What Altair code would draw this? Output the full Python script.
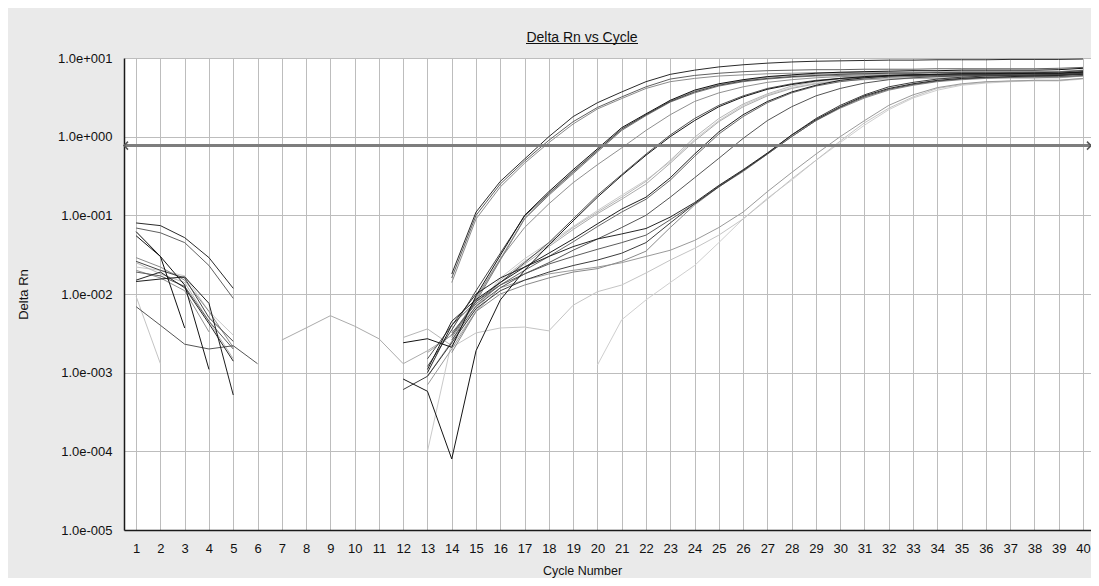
import altair as alt
import pandas as pd

N = None
CYCLES = list(range(1, 41))
Y_TICKS = [1e-5, 1e-4, 1e-3, 1e-2, 1e-1, 1.0, 10.0]
THRESHOLD = 0.77
X_DOMAIN = [0.5, 40.33]
TITLE = "Delta Rn vs Cycle"
X_TITLE = "Cycle Number"
Y_TITLE = "Delta Rn"

# ---- amplification curves (Delta Rn per cycle, None = no value drawn) ----
I2 = [N, N, N, N, N, N, N, N, N, N,
      N, N, N, N, N, N, N, N, N, 0.00125,
      0.0047, 0.0084, 0.014, 0.023, 0.045, 0.09, 0.165, 0.28, 0.5, 0.84,
      1.4, 2.2, 3.1, 3.9, 4.5, 4.8, 5.0, 5.1, 5.1, 5.4]
I1 = [0.0093, 0.0013, N, N, N, N, N, N, N, N,
      N, N, N, 0.0021, 0.0032, 0.0037, 0.0038, 0.0034, 0.0072, 0.0107,
      0.013, 0.0185, 0.027, 0.038, 0.056, 0.09, 0.16, 0.29, 0.5, 0.88,
      1.5, 2.3, 3.2, 4.1, 4.6, 4.9, 5.1, 5.2, 5.2, 5.5]
E2 = [0.022, 0.02, 0.017, 0.006, 0.003, N, N, N, N, N,
      N, N, 0.0001, 0.0025, 0.0065, 0.016, 0.028, 0.045, 0.072, 0.115,
      0.18, 0.28, 0.48, 0.92, 1.6, 2.5, 3.4, 4.2, 4.8, 5.2,
      5.4, 5.5, 5.6, 5.6, 5.7, 5.7, 5.7, 5.7, 5.7, 6.0]
E1 = [0.025, 0.018, 0.014, 0.0045, 0.0015, N, N, N, N, N,
      N, 0.0028, 0.0036, 0.0022, 0.006, 0.015, 0.026, 0.042, 0.07, 0.11,
      0.17, 0.27, 0.5, 0.98, 1.7, 2.6, 3.5, 4.4, 5.0, 5.4,
      5.6, 5.8, 5.9, 5.9, 6.0, 6.0, 6.0, 6.0, 6.0, 6.3]
E3 = [N, N, N, N, N, N, 0.0026, 0.0037, 0.0053, 0.0039,
      0.0027, 0.0013, 0.0019, 0.003, 0.007, 0.014, 0.024, 0.04, 0.066, 0.105,
      0.16, 0.25, 0.46, 0.88, 1.55, 2.4, 3.3, 4.1, 4.7, 5.1,
      5.3, 5.4, 5.5, 5.5, 5.6, 5.6, 5.6, 5.6, 5.6, 5.9]
B4 = [N, N, N, N, N, N, N, N, N, N,
      N, N, 0.0018, 0.003, 0.0085, 0.028, 0.092, 0.185, 0.35, 0.66,
      1.22, 1.88, 2.85, 3.8, 4.6, 5.2, 5.7, 6.0, 6.2, 6.3,
      6.4, 6.5, 6.5, 6.6, 6.6, 6.6, 6.6, 6.7, 6.7, 7.0]
I3 = [N, N, N, N, N, N, N, N, N, N,
      N, N, 0.0007, 0.002, 0.006, 0.012, 0.015, 0.018, 0.02, 0.022,
      0.025, 0.03, 0.036, 0.048, 0.07, 0.11, 0.2, 0.35, 0.6, 1.0,
      1.6, 2.5, 3.4, 4.2, 4.7, 5.0, 5.1, 5.2, 5.2, 5.5]
A3 = [N, N, N, N, N, N, N, N, N, N,
      N, N, N, 0.014, 0.09, 0.23, 0.46, 0.84, 1.45, 2.25,
      3.05, 4.1, 5.0, 5.5, 5.9, 6.1, 6.3, 6.4, 6.5, 6.5,
      6.6, 6.6, 6.6, 6.6, 6.7, 6.7, 6.7, 6.7, 6.7, 7.0]
C1 = [0.02, 0.016, 0.011, 0.0033, N, N, N, N, N, N,
      N, N, 0.0009, 0.0025, 0.009, 0.028, 0.07, 0.14, 0.26, 0.44,
      0.72, 1.2, 1.9, 2.8, 3.6, 4.3, 4.9, 5.3, 5.6, 5.8,
      5.9, 6.0, 6.0, 6.1, 6.1, 6.1, 6.1, 6.1, 6.2, 6.5]
H4 = [0.029, 0.022, 0.015, 0.006, 0.0021, N, N, N, N, N,
      N, N, N, 0.0018, 0.006, 0.01, 0.013, 0.016, 0.019, 0.021,
      0.026, 0.035, 0.07, 0.135, 0.23, 0.36, 0.6, 1.0, 1.6, 2.3,
      3.1, 3.9, 4.5, 5.0, 5.3, 5.5, 5.6, 5.6, 5.7, 5.9]
B3 = [N, N, N, N, N, N, N, N, N, N,
      N, N, N, 0.0028, 0.008, 0.027, 0.09, 0.18, 0.34, 0.64,
      1.2, 1.85, 2.75, 3.6, 4.4, 5.0, 5.4, 5.7, 5.9, 6.0,
      6.1, 6.1, 6.2, 6.2, 6.2, 6.2, 6.2, 6.2, 6.3, 6.6]
F2 = [N, N, N, N, N, N, N, N, N, N,
      N, N, N, 0.0032, 0.0075, 0.013, 0.02, 0.03, 0.046, 0.072,
      0.11, 0.16, 0.28, 0.56, 1.08, 1.8, 2.7, 3.6, 4.4, 5.0,
      5.4, 5.7, 5.8, 5.9, 6.0, 6.0, 6.0, 6.0, 6.0, 6.3]
A2 = [0.069, 0.06, 0.045, 0.023, 0.0088, N, N, N, N, N,
      N, N, N, 0.016, 0.1, 0.25, 0.49, 0.9, 1.55, 2.35,
      3.2, 4.3, 5.4, 6.0, 6.4, 6.7, 6.9, 7.0, 7.1, 7.1,
      7.2, 7.2, 7.2, 7.3, 7.3, 7.3, 7.3, 7.3, 7.4, 7.6]
H2 = [0.019, 0.017, 0.0125, 0.0045, 0.002, N, N, N, N, N,
      N, N, N, 0.003, 0.008, 0.013, 0.018, 0.024, 0.03, 0.037,
      0.045, 0.056, 0.088, 0.14, 0.235, 0.37, 0.6, 1.0, 1.6, 2.35,
      3.2, 4.0, 4.6, 5.1, 5.4, 5.6, 5.7, 5.8, 5.8, 6.0]
G1 = [0.0069, 0.004, 0.0023, 0.002, 0.0022, 0.0013, N, N, N, N,
      N, N, N, 0.0026, 0.007, 0.012, 0.018, 0.025, 0.036, 0.05,
      0.07, 0.1, 0.17, 0.3, 0.53, 0.95, 1.6, 2.4, 3.3, 4.1,
      4.8, 5.3, 5.6, 5.8, 5.9, 6.0, 6.0, 6.0, 6.1, 6.3]
D2 = [N, N, N, N, N, N, N, N, N, N,
      N, N, 0.0015, 0.004, 0.008, 0.014, 0.025, 0.045, 0.09, 0.18,
      0.33, 0.6, 1.05, 1.7, 2.5, 3.3, 4.1, 4.7, 5.2, 5.5,
      5.7, 5.9, 6.0, 6.0, 6.1, 6.1, 6.1, 6.1, 6.2, 6.4]
B2 = [0.026, 0.02, 0.016, 0.005, 0.0025, N, N, N, N, N,
      N, N, 0.0012, 0.0035, 0.011, 0.033, 0.098, 0.19, 0.36, 0.67,
      1.25, 1.9, 2.8, 3.7, 4.5, 5.1, 5.5, 5.8, 6.0, 6.2,
      6.3, 6.4, 6.4, 6.5, 6.5, 6.5, 6.5, 6.5, 6.6, 6.9]
H3 = [N, N, N, N, N, N, N, N, N, N,
      N, 0.00061, 0.0009, 0.0024, 0.0065, 0.011, 0.015, 0.019, 0.023, 0.027,
      0.033, 0.045, 0.08, 0.14, 0.23, 0.37, 0.61, 1.05, 1.7, 2.5,
      3.4, 4.3, 4.9, 5.4, 5.7, 5.9, 6.0, 6.1, 6.1, 6.4]
A1 = [0.08, 0.074, 0.052, 0.029, 0.0118, N, N, N, N, N,
      N, N, N, 0.018, 0.11, 0.27, 0.52, 1.0, 1.8, 2.7,
      3.7, 5.0, 6.2, 7.0, 7.7, 8.2, 8.6, 8.9, 9.1, 9.2,
      9.3, 9.4, 9.4, 9.5, 9.5, 9.5, 9.6, 9.6, 9.6, 9.7]
H1 = [0.015, 0.019, 0.012, 0.0042, 0.0014, N, N, N, N, N,
      N, N, 0.001, 0.004, 0.01, 0.016, 0.022, 0.03, 0.04, 0.05,
      0.058, 0.068, 0.095, 0.145, 0.24, 0.38, 0.62, 1.05, 1.65, 2.4,
      3.3, 4.1, 4.7, 5.2, 5.5, 5.7, 5.8, 5.9, 6.0, 6.2]
F1 = [0.0144, 0.0155, 0.0165, 0.0076, 0.00052, N, N, N, N, N,
      N, N, 0.0011, 0.0045, 0.0085, 0.014, 0.022, 0.033, 0.05, 0.078,
      0.12, 0.17, 0.3, 0.6, 1.15, 1.9, 2.8, 3.7, 4.5, 5.2,
      5.6, 5.9, 6.1, 6.2, 6.3, 6.3, 6.4, 6.4, 6.4, 6.7]
D1 = [0.055, 0.03, 0.013, 0.0011, N, N, N, N, N, N,
      N, 0.00083, 0.00058, 0.00008, 0.0019, 0.0084, 0.02, 0.042, 0.085, 0.17,
      0.32, 0.58, 1.0, 1.6, 2.4, 3.2, 4.0, 4.6, 5.1, 5.5,
      5.8, 6.0, 6.1, 6.2, 6.3, 6.3, 6.3, 6.4, 6.4, 6.6]
B1 = [0.062, 0.03, 0.0037, N, N, N, N, N, N, N,
      N, 0.0024, 0.0027, 0.0021, 0.0095, 0.031, 0.1, 0.2, 0.38, 0.7,
      1.3, 1.95, 2.9, 3.9, 4.7, 5.3, 5.8, 6.1, 6.4, 6.6,
      6.7, 6.8, 6.9, 6.9, 7.0, 7.0, 7.0, 7.0, 7.1, 7.4]

SERIES_NAMES = ["I2", "I1", "E2", "E1", "E3", "B4", "I3", "A3", "C1", "H4",
                "B3", "F2", "A2", "H2", "G1", "D2", "B2", "H3", "A1", "H1",
                "F1", "D1", "B1"]
SERIES_VALUES = [I2, I1, E2, E1, E3, B4, I3, A3, C1, H4,
                 B3, F2, A2, H2, G1, D2, B2, H3, A1, H1,
                 F1, D1, B1]
SERIES_COLORS = ["#cfcfcf", "#c4c4c4", "#cacaca", "#b6b6b6", "#ababab", "#a0a0a0",
                 "#9a9a9a", "#8c8c8c", "#909090", "#8a8a8a", "#7a7a7a", "#686868",
                 "#606060", "#5c5c5c", "#555555", "#505050", "#454545", "#3c3c3c",
                 "#2a2a2a", "#262626", "#1e1e1e", "#151515", "#111111"]

# long table, one path segment per contiguous run of values
rows = []
for name, vals in zip(SERIES_NAMES, SERIES_VALUES):
    seg = 0
    prev = False
    for c, v in zip(CYCLES, vals):
        if v is None:
            if prev:
                seg += 1
            prev = False
            continue
        rows.append({"series": name, "seg": f"{name}-{seg}", "cycle": c, "value": v})
        prev = True
df = pd.DataFrame(rows)

FONT = "Liberation Sans"
x_scale = alt.Scale(domain=X_DOMAIN, nice=False, zero=False)
y_scale = alt.Scale(type="log", domain=[Y_TICKS[0], Y_TICKS[-1]], nice=False)

label_expr = ("'1.0e' + (round(log(datum.value) / LN10) >= 0 ? '+' : '-') + "
              "pad(toString(abs(round(log(datum.value) / LN10))), 3, '0', 'left')")

X_ENC = alt.X("cycle:Q", scale=x_scale,
              axis=alt.Axis(values=CYCLES, format="d", title=X_TITLE, grid=True,
                            labelPadding=12, labelFlush=False, labelOverlap=False,
                            titleX=458, titleY=40, titleBaseline="middle"))
Y_ENC = alt.Y("value:Q", scale=y_scale,
              axis=alt.Axis(values=Y_TICKS, labelExpr=label_expr, title=Y_TITLE,
                            grid=True, labelPadding=12, labelOverlap=False,
                            titleX=-101, titleY=236, titleAngle=-90,
                            titleBaseline="middle", titleFontSize=13))

lines = alt.Chart(df).mark_line(strokeWidth=1).encode(
    x=X_ENC,
    y=Y_ENC,
    color=alt.Color("series:N", scale=alt.Scale(domain=SERIES_NAMES, range=SERIES_COLORS),
                    legend=None),
    detail="seg:N",
    order=alt.Order("cycle:Q"),
)

thr_df = pd.DataFrame({"value": [THRESHOLD]})
threshold = alt.Chart(thr_df).mark_rule(color="#7d7d7d", strokeWidth=3).encode(
    y=Y_ENC
)

arrow_df = pd.DataFrame({"cycle": X_DOMAIN, "value": [THRESHOLD, THRESHOLD],
                         "dir": ["left", "right"]})
arrows = alt.Chart(arrow_df).mark_point(filled=False, size=64, strokeWidth=1.5,
                                        color="#555555", opacity=1).encode(
    x=X_ENC,
    y=Y_ENC,
    shape=alt.Shape("dir:N", scale=alt.Scale(domain=["left", "right"],
                                             range=["M1,-1L0,0L1,1", "M-1,-1L0,0L-1,1"]),
                    legend=None),
)

title_df = pd.DataFrame({"t": [TITLE]})
title_text = alt.Chart(title_df).mark_text(font=FONT, fontSize=14, color="#111111",
                                           align="center", baseline="alphabetic").encode(
    x=alt.value(458), y=alt.value(-16), text="t:N"
)
underline = alt.Chart(title_df).mark_rule(color="#111111", strokeWidth=1).encode(
    x=alt.value(402), x2=alt.value(514), y=alt.value(-14.5)
)

chart = alt.layer(lines, threshold, arrows, title_text, underline).properties(
    width=967,
    height=472,
    padding={"left": 116, "top": 50, "right": 0, "bottom": 48},
    autosize=alt.AutoSizeParams(type="none"),
    background="#eaeaea",
).configure_view(
    fill="white", strokeWidth=0
).configure_axis(
    labelFont=FONT, titleFont=FONT, labelFontSize=13, titleFontSize=12.5,
    labelColor="#111111", titleColor="#111111", titleFontWeight="normal",
    gridColor="#bdbdbd", gridWidth=1, domainColor="#1a1a1a", domainWidth=1.5,
    ticks=False,
)

chart.save("out.html", embed_options={"renderer": "svg", "actions": False})
